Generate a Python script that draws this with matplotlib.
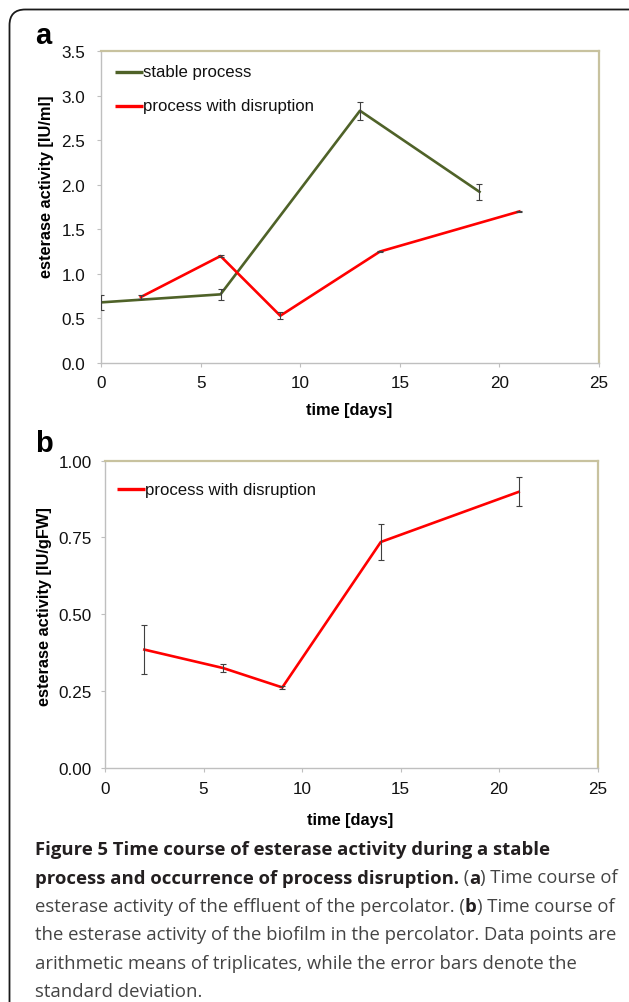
import matplotlib
matplotlib.use("Agg")
import matplotlib.pyplot as plt
from matplotlib.patches import FancyBboxPatch
from matplotlib.ticker import FormatStrFormatter

# ---------------- data ----------------
# panel a: effluent esterase activity [IU/ml]
stable_days = [0, 6, 13, 19]
stable_vals = [0.68, 0.77, 2.83, 1.92]
stable_err = [0.08, 0.06, 0.10, 0.09]

disr_days_a = [2, 6, 9, 14, 21]
disr_vals_a = [0.74, 1.20, 0.53, 1.25, 1.70]
disr_err_a = [0.02, 0.01, 0.04, 0.01, 0.01]

# panel b: biofilm esterase activity [IU/gFW]
disr_days_b = [2, 6, 9, 14, 21]
disr_vals_b = [0.385, 0.325, 0.262, 0.735, 0.898]
disr_err_b = [0.080, 0.012, 0.004, 0.057, 0.047]

ticks_x = [0, 5, 10, 15, 20, 25]
ticks_ya = [0.0, 0.5, 1.0, 1.5, 2.0, 2.5, 3.0, 3.5]
ticks_yb = [0.00, 0.25, 0.50, 0.75, 1.00]

label_stable = "stable process"
label_disr = "process with disruption"
xlabel = "time [days]"
ylabel_a = "esterase activity [IU/ml]"
ylabel_b = "esterase activity [IU/gFW]"

# ---------------- styling ----------------
W, H = 629, 1003
DPI = 100
GREEN = "#4F6228"
RED = "#FF0000"
ERRC = "#404040"
SPINE_LB = "#BFBFBF"
SPINE_TR = "#C8C29F"
CHART_FONT = "Liberation Sans"
TICK_SIZE = 12.3
LEG_SIZE = 12.1
AX_LAB_SIZE = 11.8

fig = plt.figure(figsize=(W / DPI, H / DPI), dpi=DPI)
fig.patch.set_facecolor("white")


def px_rect(left, top, right, bottom):
    return [left / W, 1 - bottom / H, (right - left) / W, (bottom - top) / H]


# rounded outer frame (extends beyond right and bottom edges)
frame = FancyBboxPatch((9.5 / W, -0.05), 1.1, 1 - 10.5 / H + 0.05,
                       boxstyle="round,pad=0,rounding_size=0.025",
                       transform=fig.transFigure, facecolor="none",
                       edgecolor="#1a1a1a", linewidth=1.3, zorder=0,
                       mutation_aspect=W / H)
fig.patches.append(frame)


def style_axes(ax, yticks, yfmt, ylim, ypad):
    ax.set_xlim(0, 25)
    ax.set_ylim(*ylim)
    ax.set_xticks(ticks_x)
    ax.set_yticks(yticks)
    ax.yaxis.set_major_formatter(FormatStrFormatter(yfmt))
    for s in ("left", "bottom"):
        ax.spines[s].set_color(SPINE_LB)
        ax.spines[s].set_linewidth(1.0)
    for s in ("top", "right"):
        ax.spines[s].set_color(SPINE_TR)
        ax.spines[s].set_linewidth(1.6)
    ax.tick_params(axis="both", direction="out", length=3, width=0.8,
                   color=SPINE_LB, labelsize=TICK_SIZE, labelcolor="#111111",
                   top=False, right=False)
    ax.tick_params(axis="y", pad=ypad)
    ax.tick_params(axis="x", pad=6)
    for lab in ax.get_xticklabels() + ax.get_yticklabels():
        lab.set_fontfamily(CHART_FONT)


def legend_entry(ax, x0, x1, y, color, text):
    ax.plot([x0, x1], [y, y], color=color, lw=2.4, transform=ax.transAxes,
            clip_on=False, zorder=5, solid_capstyle="butt")
    ax.text(x1 + 0.001, y, text, transform=ax.transAxes, ha="left",
            va="center", fontsize=LEG_SIZE, family=CHART_FONT, color="#111111")


# ---------- panel a ----------
axa = fig.add_axes(px_rect(101, 52, 599, 364))
style_axes(axa, ticks_ya, "%.1f", (0, 3.5), 8.5)
axa.plot(stable_days, stable_vals, color=GREEN, lw=1.9, zorder=3)
axa.plot(disr_days_a, disr_vals_a, color=RED, lw=1.9, zorder=3)
axa.errorbar(stable_days, stable_vals, yerr=stable_err, fmt="none",
             ecolor=ERRC, elinewidth=0.8, capsize=2.5, capthick=0.8, zorder=4)
axa.errorbar(disr_days_a, disr_vals_a, yerr=disr_err_a, fmt="none",
             ecolor=ERRC, elinewidth=0.8, capsize=2.5, capthick=0.8, zorder=4)

legend_entry(axa, (115 - 101) / 498, (143 - 101) / 498, (364 - 73) / 312,
             GREEN, label_stable)
legend_entry(axa, (115 - 101) / 498, (143 - 101) / 498, (364 - 107) / 312,
             RED, label_disr)

axa.text(0.499, (364 - 411) / 312, xlabel, transform=axa.transAxes,
         ha="center", va="center", fontsize=AX_LAB_SIZE, fontweight="bold",
         family=CHART_FONT)
axa.text((47 - 101) / 498, (364 - 187) / 312, ylabel_a, transform=axa.transAxes,
         ha="center", va="center", rotation=90, fontsize=AX_LAB_SIZE,
         fontweight="bold", family=CHART_FONT)

# ---------- panel b ----------
axb = fig.add_axes(px_rect(105, 461.5, 597.5, 769))
style_axes(axb, ticks_yb, "%.2f", (0, 1.0), 6.5)
axb.plot(disr_days_b, disr_vals_b, color=RED, lw=1.9, zorder=3)
axb.errorbar(disr_days_b, disr_vals_b, yerr=disr_err_b, fmt="none",
             ecolor=ERRC, elinewidth=0.8, capsize=2.5, capthick=0.8, zorder=4)
legend_entry(axb, (117 - 105) / 492.5, (145 - 105) / 492.5, (769 - 490) / 307.5,
             RED, label_disr)
axb.text(0.497, (769 - 820) / 307.5, xlabel, transform=axb.transAxes,
         ha="center", va="center", fontsize=AX_LAB_SIZE, fontweight="bold",
         family=CHART_FONT)
axb.text((45 - 105) / 492.5, (769 - 607) / 307.5, ylabel_b,
         transform=axb.transAxes, ha="center", va="center", rotation=90,
         fontsize=AX_LAB_SIZE, fontweight="bold", family=CHART_FONT)

# panel letters
fig.text(35 / W, 1 - 44 / H, "a", fontsize=21, fontweight="bold",
         family=CHART_FONT, ha="left", va="baseline")
fig.text(35 / W, 1 - 452 / H, "b", fontsize=21, fontweight="bold",
         family=CHART_FONT, ha="left", va="baseline")

# ---------------- caption ----------------
CAP_FONT = "Open Sans"
CAP_SIZE = 13.3
BOLD_C = "#231F20"
REG_C = "#444444"
caption_lines = [
    [("Figure 5 Time course of esterase activity during a stable", True)],
    [("process and occurrence of process disruption.", True), (" (", False),
     ("a", True), (") Time course of", False)],
    [("esterase activity of the effluent of the percolator. (", False),
     ("b", True), (") Time course of", False)],
    [("the esterase activity of the biofilm in the percolator. Data points are", False)],
    [("arithmetic means of triplicates, while the error bars denote the", False)],
    [("standard deviation.", False)],
]
baselines = [855, 883.5, 912, 940.5, 969, 997.5]

renderer = fig.canvas.get_renderer()
for segs, yb in zip(caption_lines, baselines):
    x = 35.0
    for txt, bold in segs:
        weight = "bold" if bold else "normal"
        fig.text(x / W, 1 - yb / H, txt, fontsize=CAP_SIZE,
                 family=CAP_FONT, fontweight=weight,
                 color=BOLD_C if bold else REG_C, ha="left",
                 va="baseline")
        probe = fig.text(0, 0, txt.replace(" ", "\u00a0") + "|",
                         fontsize=CAP_SIZE, family=CAP_FONT, fontweight=weight)
        bar = fig.text(0, 0, "|", fontsize=CAP_SIZE, family=CAP_FONT,
                       fontweight=weight)
        w = (probe.get_window_extent(renderer).width
             - bar.get_window_extent(renderer).width)
        probe.remove()
        bar.remove()
        x += w

fig.savefig("out.png", dpi=DPI, facecolor="white")
